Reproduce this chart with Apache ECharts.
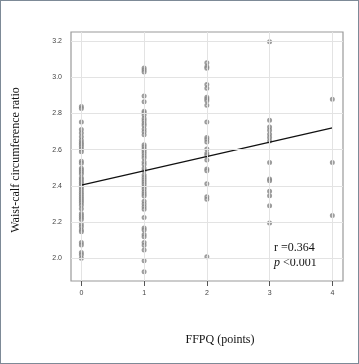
<!DOCTYPE html>
<html>
<head>
<meta charset="utf-8">
<script src="https://cdn.jsdelivr.net/npm/echarts@6/dist/echarts.min.js"></script>
<style>
html,body{margin:0;padding:0;background:#fff;}
#frame{box-sizing:border-box;width:359px;height:364px;border:1px solid #7d8a97;position:relative;}
#c{position:absolute;left:-1px;top:-1px;width:359px;height:364px;}
</style>
</head>
<body>
<div id="frame"><div id="c"></div></div>
<script>
// FFPQ score groups (x) and waist-calf ratio values (y)
const ffpqLevels = [0, 1, 2, 3, 4];
const ratio0 = [2.839,2.828,2.753,2.712,2.692,2.672,2.652,2.639,2.629,2.617,2.602,2.589,2.536,2.525,2.497,2.488,2.477,2.466,2.445,2.436,2.423,2.414,2.403,2.390,2.377,2.364,2.352,2.340,2.329,2.318,2.307,2.293,2.274,2.248,2.237,2.226,2.215,2.188,2.175,2.156,2.147,2.087,2.074,2.033,2.020,2.000];
const ratio1 = [3.051,3.040,3.029,2.896,2.865,2.813,2.804,2.791,2.773,2.760,2.745,2.733,2.714,2.699,2.683,2.628,2.617,2.604,2.593,2.580,2.567,2.554,2.532,2.519,2.497,2.484,2.460,2.447,2.434,2.421,2.409,2.396,2.383,2.368,2.355,2.344,2.315,2.300,2.285,2.271,2.226,2.167,2.156,2.132,2.120,2.087,2.072,2.046,1.987,1.926];
const ratio2 = [3.080,3.058,3.050,2.960,2.940,2.890,2.880,2.870,2.846,2.753,2.668,2.657,2.642,2.604,2.580,2.569,2.543,2.493,2.484,2.412,2.340,2.326,2.009];
const ratio3 = [3.196,2.762,2.725,2.707,2.685,2.668,2.648,2.530,2.438,2.429,2.370,2.346,2.291,2.195];
const ratio4 = [2.878,2.530,2.237];
const fitLine = [[0, 2.405], [4, 2.72]];
const yTicks = [2.0, 2.2, 2.4, 2.6, 2.8, 3.0, 3.2];
const xTicks = [0, 1, 2, 3, 4];

const groups = [ratio0, ratio1, ratio2, ratio3, ratio4];
const points = [];
groups.forEach((arr, i) => arr.forEach(v => points.push([ffpqLevels[i], v])));

const chart = echarts.init(document.getElementById('c'));
const tickFont = {fontFamily: 'Liberation Sans, Arial, sans-serif', fontSize: 7, color: '#444'};
const serif = '12px "Liberation Serif", "Times New Roman", serif';
chart.setOption({
  animation: false,
  grid: {left: 71, right: 16, top: 32, bottom: 83, show: true, borderColor: '#9a9a9a', borderWidth: 1.2, backgroundColor: 'transparent'},
  xAxis: {
    type: 'value', min: -0.165, max: 4.17,
    axisLine: {show: false},
    splitLine: {show: false},
    axisTick: {show: true, length: 5, lineStyle: {color: '#555'}, customValues: xTicks},
    axisLabel: Object.assign({margin: 9, customValues: xTicks, formatter: v => String(Math.round(v))}, tickFont)
  },
  yAxis: {
    type: 'value', min: 1.875, max: 3.25,
    axisLine: {show: false},
    splitLine: {show: false},
    axisTick: {show: true, length: 5, lineStyle: {color: '#555'}, customValues: yTicks},
    axisLabel: Object.assign({margin: 9, customValues: yTicks, formatter: v => v.toFixed(1)}, tickFont)
  },
  graphic: [
    {type: 'text', x: 16, y: 160, rotation: Math.PI / 2,
     style: {text: 'Waist-calf circumference ratio', align: 'center', verticalAlign: 'middle', font: serif, fill: '#111'}},
    {type: 'text', x: 220, y: 340,
     style: {text: 'FFPQ (points)', align: 'center', verticalAlign: 'middle', font: serif, fill: '#111'}},
    {type: 'text', x: 274, y: 248,
     style: {text: 'r =0.364', align: 'left', verticalAlign: 'middle', font: serif, fill: '#111'}},
    {type: 'text', x: 274, y: 263,
     style: {text: '{i|p} <0.001', align: 'left', verticalAlign: 'middle', font: serif, fill: '#111',
       rich: {i: {fontStyle: 'italic', fontFamily: 'Liberation Serif', fontSize: 12, fill: '#111'}}}}
  ],
  series: [
    {
      type: 'line', data: [], silent: true,
      markLine: {
        silent: true, symbol: 'none', label: {show: false}, animation: false,
        lineStyle: {color: '#e3e3e3', width: 1, type: 'solid'},
        data: yTicks.map(v => ({yAxis: v})).concat(xTicks.map(v => ({xAxis: v})))
      }
    },
    {
      type: 'scatter', data: points, symbol: 'emptyCircle', symbolSize: 3,
      itemStyle: {color: '#858585', borderColor: '#858585', borderWidth: 0.6}, z: 3
    },
    {
      type: 'line', data: fitLine, symbol: 'none', lineStyle: {color: '#111', width: 1.3}, z: 4
    }
  ]
});
</script>
</body>
</html>
